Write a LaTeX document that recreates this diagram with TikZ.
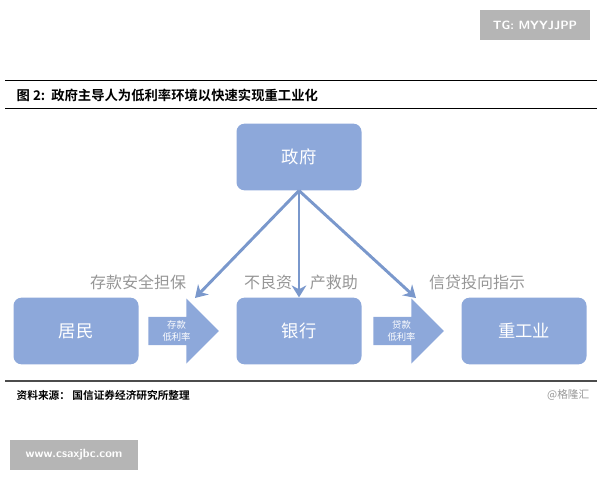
\documentclass[tikz,border=0pt]{standalone}
\usepackage{fontspec}
\newfontfamily\cjk{Noto Sans CJK SC}
\newfontfamily\cjkb{Noto Sans CJK SC Bold}
\usetikzlibrary{positioning, shapes.arrows, arrows.meta}
\definecolor{boxBlue}{RGB}{141,168,218}
\definecolor{lineBlue}{RGB}{122,152,204}
\definecolor{capGray}{RGB}{150,150,150}
\tikzset{
    partBox/.style={draw=none, fill=boxBlue, rounded corners=6pt, minimum width=93.75pt, minimum height=50pt, text=white, font=\cjk\fontsize{13}{13}\selectfont},
    flowArrow/.style={single arrow, fill=boxBlue, draw=none, minimum height=53pt, minimum width=48.75pt, single arrow head extend=11pt, single arrow tip angle=90, inner sep=0.5pt, text=white, font=\cjk\fontsize{7}{9}\selectfont, align=center},
    cueText/.style={text=capGray, font=\cjk\fontsize{12}{12}\selectfont},
    govLine/.style={draw=lineBlue, line width=2.2pt, -{Stealth[length=9pt,width=11pt]}},
    tagBox/.style={fill=capGray!70, text=white, font=\fontsize{9}{9}\selectfont\sffamily\bfseries, minimum height=22pt}
}
\begin{document}
\begin{tikzpicture}[x=0.75pt, y=-0.75pt]
\useasboundingbox (0,0) rectangle (600,480);

%标题与页眉
\node[tagBox, minimum width=82pt] (tgTag) at (535,25) {TG: MYYJJPP};
\draw[line width=0.6pt] (5,80) -- (597,80);
\node[anchor=west, font=\cjkb\fontsize{10}{10}\selectfont] (figTitle) at (12,95) {图 2:\ \ 政府主导人为低利率环境以快速实现重工业化};
\draw[line width=0.6pt] (5,108) -- (597,108);

%主体方框
\node[partBox] (govBox) at (299,157) {政府};
\node[partBox] (resBox) at (76,331) {居民};
\node[partBox] (bankBox) at (299,331) {银行};
\node[partBox] (heavyBox) at (524,331) {重工业};

%块状箭头
\node[flowArrow, anchor=tail] (depArrow) at (148,331) {存款\\低利率};
\node[flowArrow, anchor=tail] (loanArrow) at (373,331) {贷款\\低利率};

%政府指向
\draw[govLine] (govBox.south) -- (195,298);
\draw[govLine] (govBox.south) -- (416,298);

\node[cueText] (cueA) at (138,282) {存款安全担保};
\node[cueText, fill=white, inner sep=1pt] (cueB) at (301,282) {不良资\hspace{1.1em}产救助};
\draw[govLine] (govBox.south) -- (bankBox.north);
\node[cueText] (cueC) at (477,282) {信贷投向指示};

%来源
\draw[line width=0.8pt, black!70] (5,381) -- (597,381);
\node[anchor=west, font=\cjkb\fontsize{8}{8}\selectfont] (srcText) at (12,395) {资料来源：\ 国信证券经济研究所整理};
\node[anchor=east, text=capGray, font=\cjk\fontsize{8}{8}\selectfont] (srcMark) at (594,395) {@格隆汇};
\node[tagBox, minimum width=96pt] (webTag) at (74,455) {www.csaxjbc.com};
\end{tikzpicture}
\end{document}
